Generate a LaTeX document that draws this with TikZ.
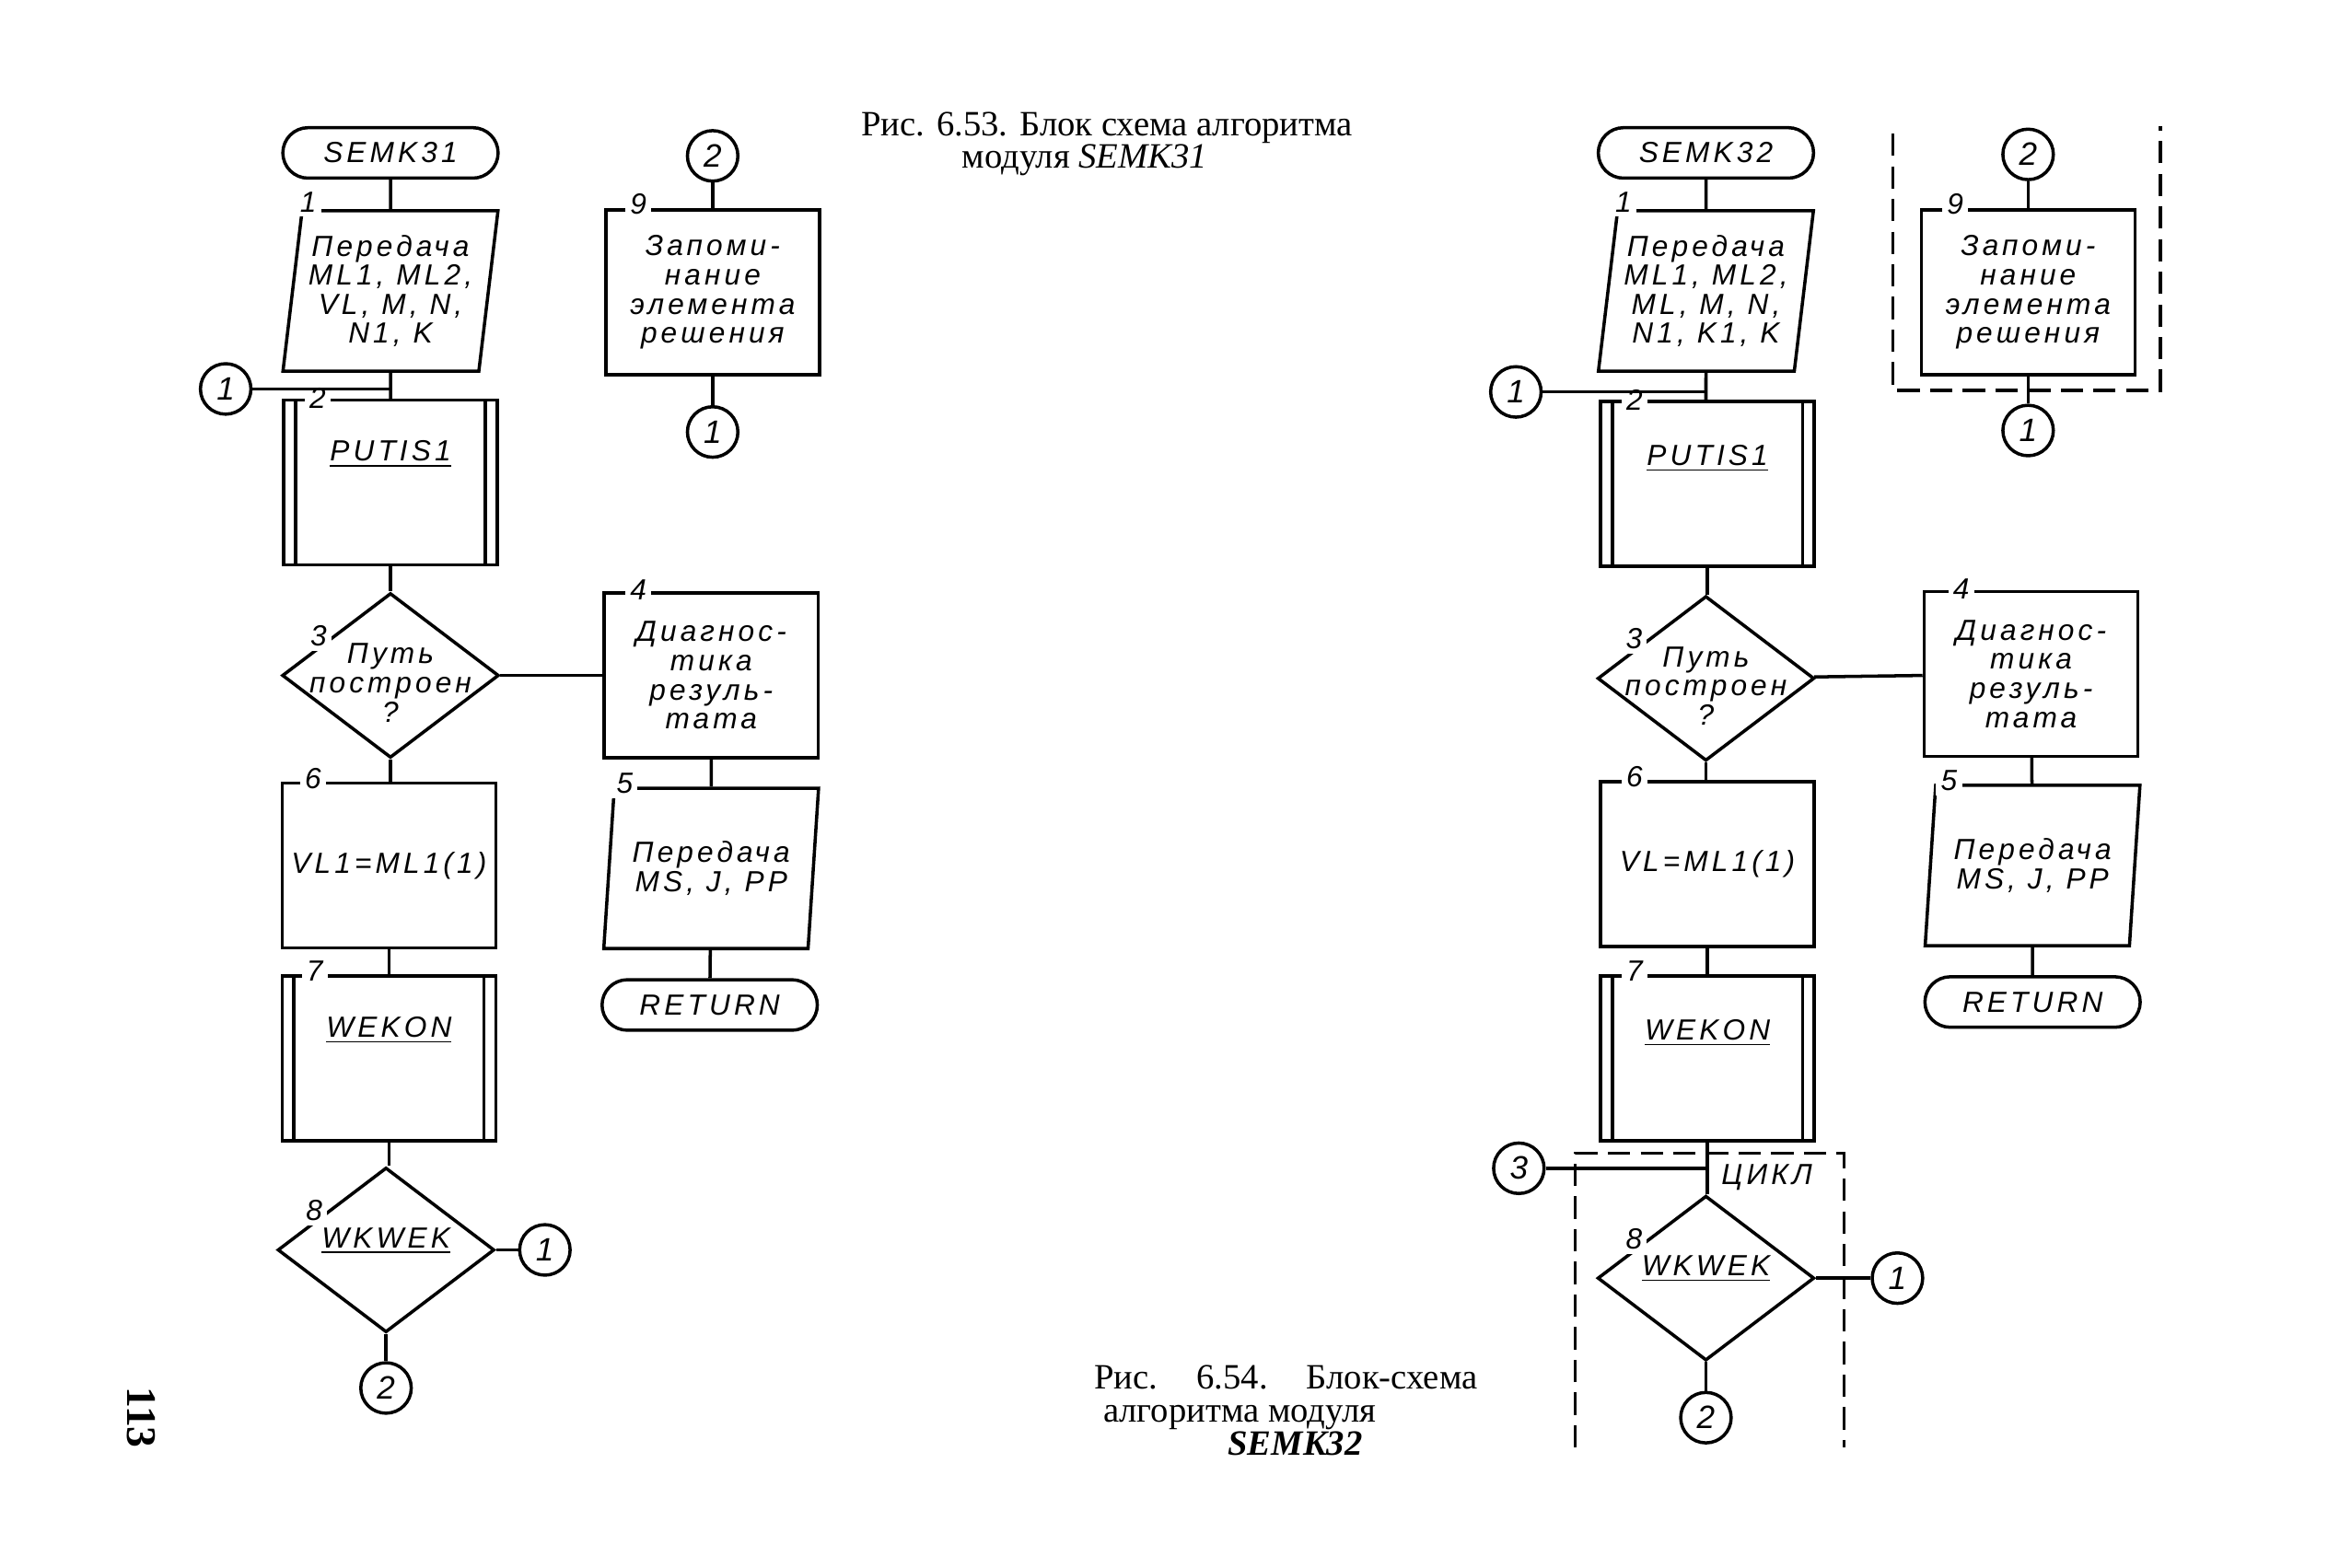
\documentclass[tikz,border=0pt]{standalone}
\usepackage{fontspec}
\setmainfont{Liberation Serif}
\newfontfamily\gostfont[LetterSpace=13]{Liberation Sans}
\usetikzlibrary{positioning,calc,shapes.geometric,shapes.misc}

\newdimen\pxu
\pxu=0.1612mm
\newcommand{\chartfont}{\gostfont\itshape\fontsize{9}{9}\selectfont}
\newcommand{\captfont}{\fontsize{11}{10.2}\selectfont}

\tikzset{
  term/.style={draw, rounded rectangle, minimum width=145\pxu, minimum height=34\pxu, inner sep=0pt, font=\chartfont},
  proc/.style={draw, rectangle, minimum width=144\pxu, minimum height=111\pxu, inner sep=0pt, align=center, font=\chartfont},
  subproc/.style={proc, path picture={
      \draw ([xshift=8\pxu]path picture bounding box.north west) -- ([xshift=8\pxu]path picture bounding box.south west);
      \draw ([xshift=-8\pxu]path picture bounding box.north east) -- ([xshift=-8\pxu]path picture bounding box.south east);}},
  io/.style={draw, trapezium, trapezium left angle=81, trapezium right angle=99, trapezium stretches=true,
      minimum width=145\pxu, minimum height=108\pxu, inner sep=0pt, align=center, font=\chartfont},
  decide/.style={draw, diamond, minimum width=146\pxu, minimum height=111\pxu, inner sep=0pt},
  conn/.style={draw, circle, minimum size=34\pxu, inner sep=0pt, font=\gostfont\itshape\fontsize{10}{12}\selectfont},
  num/.style={fill=white, inner sep=1.5pt, font=\chartfont},
  caption/.style={anchor=west, inner sep=0pt, font=\captfont, align=left},
  frame/.style={dash pattern=on 15\pxu off 7\pxu},
}

\begin{document}
\begin{tikzpicture}[x=0.1612mm, y=-0.1612mm, line width=1pt]
  \useasboundingbox (0,0) rectangle (1568,1056);

  % ---- Рис. 6.53: SEMK31 ----
  \node[term] (s31) at (263,103) {SEMK31};
  \node[io] (p1) at (263,196) {Передача\\ML1, ML2,\\VL, M, N,\\N1, K};
  \node[conn] (p1in) at (152,262) {1};
  \node[subproc] (p2) at (263,325) {};
  \node[font=\chartfont] (p2t) [below=20\pxu of p2.north] {\underline{PUTIS1}};
  \node[decide] (p3) at (263,455) {};
  \node[font=\chartfont, align=center] (p3t) at ([yshift=-5\pxu]p3.center) {Путь\\построен\\?};
  \node[proc] (p6) at (262,583) {VL1=ML1(1)};
  \node[subproc] (p7) at (262,713) {};
  \node[font=\chartfont] (p7t) [below=20\pxu of p7.north] {\underline{WEKON}};
  \node[decide] (p8) at (260,842) {};
  \node[font=\chartfont] (p8t) at ([yshift=6\pxu]p8.center) {\underline{WKWEK}};
  \node[conn] (p8yes) at (367,842) {1};
  \node[conn] (p8no) at (260,935) {2};

  \node[proc] (p4) at (479,455) {Диагнос-\\тика\\резуль-\\тата};
  \node[io] (p5) at (479,585) {Передача\\MS, J, PP};
  \node[term] (r31) at (478,677) {RETURN};

  \node[conn] (p9in) at (480,105) {2};
  \node[proc] (p9) at (480,197) {Запоми-\\нание\\элемента\\решения};
  \node[conn] (p9out) at (480,291) {1};

  % block numbers
  \node[num] (n1) at ([shift={(5,-5)}]p1.top left corner) {1};
  \node[num] (n2) at ([shift={(24,0)}]p2.north west) {2};
  \node[num] (n3) at ([shift={(-4,-4)}]$(p3.west)!0.4!(p3.north)$) {3};
  \node[num] (n4) at ([shift={(24,-1)}]p4.north west) {4};
  \node[num] (n5) at ([shift={(8,-2)}]p5.top left corner) {5};
  \node[num] (n6) at ([shift={(22,-2)}]p6.north west) {6};
  \node[num] (n7) at ([shift={(23,-2)}]p7.north west) {7};
  \node[num] (n8) at ([shift={(-4,-4)}]$(p8.west)!0.4!(p8.north)$) {8};
  \node[num] (n9) at ([shift={(23,-3)}]p9.north west) {9};

  \draw (s31) -- (p1);
  \draw (p1) -- (p2);
  \draw (p1in) -- (p1in -| p2.north);
  \draw (p2) -- (p3);
  \draw (p3) -- (p3 |- p6.north);
  \draw (p3) -- (p4);
  \draw (p4) -- (p5);
  \draw (p5) -- (r31);
  \draw (p6) -- (p7);
  \draw (p7) -- (p7.south |- p8.north);
  \draw (p8) -- (p8yes);
  \draw (p8) -- (p8no);
  \draw (p9in) -- (p9);
  \draw (p9) -- (p9out);

  \node[caption] (cap1) at (579,97)
    {Рис. 6.53. Блок схема алгоритма\\\hspace*{68\pxu}модуля \textit{SEMK31}};

  % ---- Рис. 6.54: SEMK32 ----
  \node[term] (s32) at (1149,103) {SEMK32};
  \node[io] (q1) at (1149,196) {Передача\\ML1, ML2,\\ML, M, N,\\N1, K1, K};
  \node[conn] (q1in) at (1021,264) {1};
  \node[subproc] (q2) at (1150,326) {};
  \node[font=\chartfont] (q2t) [below=22\pxu of q2.north] {\underline{PUTIS1}};
  \node[decide] (q3) at (1149,457) {};
  \node[font=\chartfont, align=center] (q3t) at ([yshift=-5\pxu]q3.center) {Путь\\построен\\?};
  \node[proc] (q6) at (1150,582) {VL=ML1(1)};
  \node[subproc] (q7) at (1150,713) {};
  \node[font=\chartfont] (q7t) [below=22\pxu of q7.north] {\underline{WEKON}};
  \node[conn] (q8in) at (1023,787) {3};
  \node[decide] (q8) at (1149,861) {};
  \node[font=\chartfont] (q8t) at ([yshift=6\pxu]q8.center) {\underline{WKWEK}};
  \node[conn] (q8yes) at (1278,861) {1};
  \node[conn] (q8no) at (1149,955) {2};
  \node[font=\chartfont] (cycle) at (1190,793) {ЦИКЛ};

  \node[proc] (q4) at (1368,454) {Диагнос-\\тика\\резуль-\\тата};
  \node[io] (q5) at (1369,583) {Передача\\MS, J, PP};
  \node[term] (r32) at (1369,675) {RETURN};

  \node[conn] (q9in) at (1366,104) {2};
  \node[proc] (q9) at (1366,197) {Запоми-\\нание\\элемента\\решения};
  \node[conn] (q9out) at (1366,290) {1};

  \node[num] (m1) at ([shift={(5,-5)}]q1.top left corner) {1};
  \node[num] (m2) at ([shift={(24,0)}]q2.north west) {2};
  \node[num] (m3) at ([shift={(-4,-4)}]$(q3.west)!0.4!(q3.north)$) {3};
  \node[num] (m4) at ([shift={(26,-1)}]q4.north west) {4};
  \node[num] (m5) at ([shift={(10,-2)}]q5.top left corner) {5};
  \node[num] (m6) at ([shift={(24,-2)}]q6.north west) {6};
  \node[num] (m7) at ([shift={(24,-2)}]q7.north west) {7};
  \node[num] (m8) at ([shift={(-4,-4)}]$(q8.west)!0.4!(q8.north)$) {8};
  \node[num] (m9) at ([shift={(24,-3)}]q9.north west) {9};

  \draw (s32) -- (q1);
  \draw (q1) -- (q1 |- q2.north);
  \draw (q1in) -- (q1in -| q2.north);
  \draw (q2) -- (q2.south |- q3.north);
  \draw (q3) -- (q3 |- q6.north);
  \draw (q3) -- (q4);
  \draw (q4) -- (q5);
  \draw (q5) -- (r32);
  \draw (q6) -- (q7);
  \draw (q7) -- (q7.south |- q8.north);
  \draw (q8in) -- (q8in -| q7.south);
  \draw (q8) -- (q8yes);
  \draw (q8) -- (q8no);
  \draw (q9in) -- (q9);
  \draw (q9) -- (q9out);

  % dashed frames
  \draw[frame] (1275,90) -- (1275,263) -- (1455,263) -- (1455,85);
  \draw[frame, line width=0.75pt] (1061,975) -- (1061,777) -- (1242,777) -- (1242,975);

  \node[caption] (cap2) at (736,950)
    {\makebox[258\pxu][s]{Рис. 6.54. Блок-схема}\\\hspace*{6\pxu}алгоритма модуля\\\hspace*{90\pxu}\textbf{\textit{SEMK32}}};

  % page number
  \node[rotate=-90, font=\fontsize{13}{15}\selectfont\bfseries] (page) at (95,955) {113};
\end{tikzpicture}
\end{document}
